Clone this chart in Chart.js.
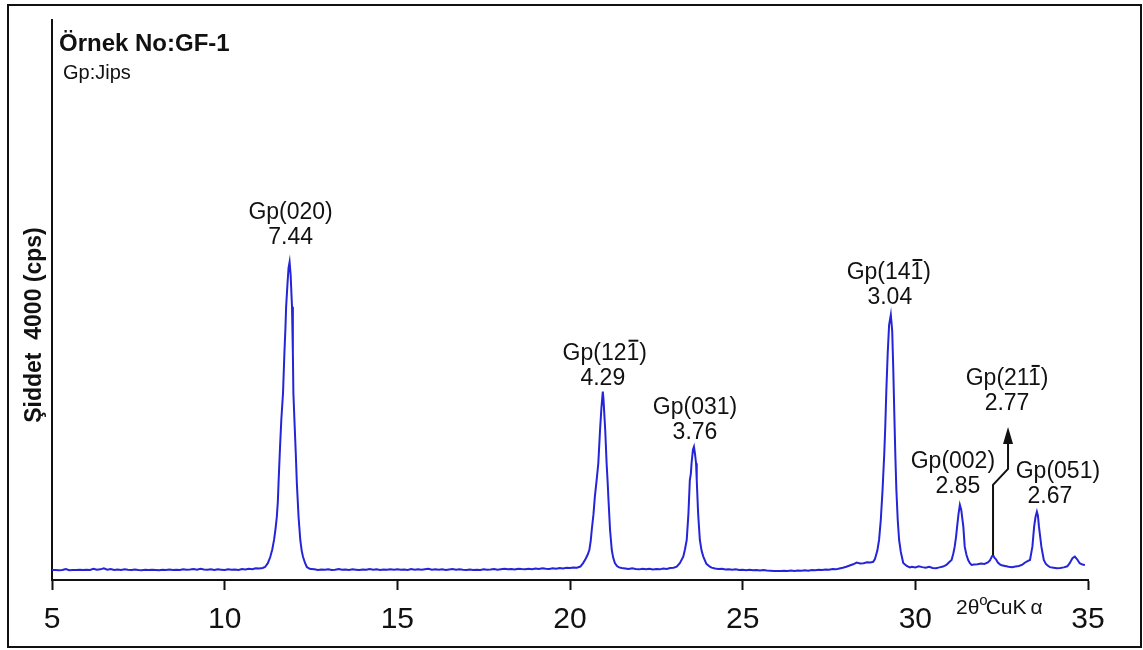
<!DOCTYPE html>
<html lang="tr">
<head>
<meta charset="utf-8">
<title>GF-1 XRD</title>
<script src="https://cdn.jsdelivr.net/npm/chart.js@4.4.1/dist/chart.umd.min.js"></script>
<style>
  html, body { margin: 0; padding: 0; background: #ffffff; }
  #wrap { position: relative; width: 1143px; height: 650px; }
  #frame {
    position: absolute; left: 7px; top: 4px; width: 1131px; height: 640px;
    border: 2px solid #111111; pointer-events: none;
  }
  canvas { display: block; }
</style>
</head>
<body>
<div id="wrap">
  <canvas id="xrd" width="1143" height="650"></canvas>
  <div id="frame"></div>
</div>
<script>
// diffractogram, 2θ (degrees) against intensity (cps)
const twoTheta = [
  5.0, 5.1, 5.2, 5.3, 5.4, 5.5, 5.6, 5.7, 5.8, 5.9,
  6.0, 6.1, 6.2, 6.3, 6.4, 6.5, 6.6, 6.7, 6.8, 6.9,
  7.0, 7.1, 7.2, 7.3, 7.4, 7.5, 7.6, 7.7, 7.8, 7.9,
  8.0, 8.1, 8.2, 8.3, 8.4, 8.5, 8.6, 8.7, 8.8, 8.9,
  9.0, 9.1, 9.2, 9.3, 9.4, 9.5, 9.6, 9.7, 9.8, 9.9,
  10.0, 10.1, 10.2, 10.3, 10.4, 10.5, 10.6, 10.7, 10.8, 10.9,
  11.0, 11.1, 11.17, 11.25, 11.32, 11.38, 11.43, 11.47, 11.51, 11.54,
  11.56, 11.6, 11.64, 11.69, 11.73, 11.76, 11.78, 11.82, 11.85, 11.88,
  11.91, 11.95, 11.975, 11.99, 12.02, 12.06, 12.09, 12.14, 12.19, 12.23,
  12.27, 12.33, 12.38, 12.45, 12.5, 12.6, 12.7, 12.8, 12.9, 13.0,
  13.1, 13.2, 13.3, 13.4, 13.5, 13.6, 13.7, 13.8, 13.9, 14.0,
  14.1, 14.2, 14.3, 14.4, 14.5, 14.6, 14.7, 14.8, 14.9, 15.0,
  15.1, 15.2, 15.3, 15.4, 15.5, 15.6, 15.7, 15.8, 15.9, 16.0,
  16.1, 16.2, 16.3, 16.4, 16.5, 16.6, 16.7, 16.8, 16.9, 17.0,
  17.1, 17.2, 17.3, 17.4, 17.5, 17.6, 17.7, 17.8, 17.9, 18.0,
  18.1, 18.2, 18.3, 18.4, 18.5, 18.6, 18.7, 18.8, 18.9, 19.0,
  19.1, 19.2, 19.3, 19.4, 19.5, 19.6, 19.7, 19.8, 19.9, 20.0,
  20.1, 20.2, 20.3, 20.38, 20.45, 20.51, 20.56, 20.6, 20.63, 20.68,
  20.72, 20.77, 20.82, 20.87, 20.91, 20.95, 20.97, 20.99, 21.02, 21.06,
  21.09, 21.11, 21.16, 21.21, 21.25, 21.3, 21.36, 21.42, 21.5, 21.6,
  21.7, 21.8, 21.9, 22.0, 22.1, 22.2, 22.3, 22.4, 22.5, 22.6,
  22.7, 22.8, 22.9, 23.0, 23.09, 23.18, 23.28, 23.33, 23.38, 23.43,
  23.47, 23.5, 23.52, 23.56, 23.59, 23.62, 23.65, 23.67, 23.71, 23.76,
  23.81, 23.86, 23.95, 24.05, 24.1, 24.2, 24.3, 24.4, 24.5, 24.6,
  24.7, 24.8, 24.9, 25.0, 25.1, 25.2, 25.3, 25.4, 25.5, 25.6,
  25.7, 25.8, 25.9, 26.0, 26.1, 26.2, 26.3, 26.4, 26.5, 26.6,
  26.7, 26.8, 26.9, 27.0, 27.1, 27.2, 27.3, 27.4, 27.5, 27.6,
  27.7, 27.8, 27.9, 28.0, 28.1, 28.2, 28.3, 28.4, 28.5, 28.6,
  28.7, 28.78, 28.83, 28.9, 28.95, 29.0, 29.05, 29.1, 29.13, 29.16,
  29.2, 29.24, 29.29, 29.33, 29.36, 29.39, 29.42, 29.45, 29.49, 29.53,
  29.58, 29.65, 29.75, 29.84, 29.9, 30.0, 30.1, 30.2, 30.3, 30.4,
  30.5, 30.6, 30.7, 30.8, 30.9, 30.97, 31.05, 31.1, 31.14, 31.18,
  31.21, 31.25, 31.29, 31.33, 31.36, 31.39, 31.43, 31.48, 31.53, 31.58,
  31.63, 31.7, 31.8, 31.9, 32.0, 32.1, 32.16, 32.22, 32.25, 32.29,
  32.33, 32.39, 32.45, 32.5, 32.6, 32.7, 32.8, 32.9, 33.0, 33.1,
  33.18, 33.25, 33.32, 33.39, 33.44, 33.48, 33.52, 33.55, 33.58, 33.65,
  33.72, 33.78, 33.85, 33.9, 34.0, 34.1, 34.2, 34.3, 34.4, 34.47,
  34.55, 34.62, 34.68, 34.76, 34.84, 34.91
];

const counts = [
  71, 72, 70, 71, 78, 70, 72, 71, 73, 72,
  74, 72, 80, 73, 76, 83, 74, 78, 71, 75,
  72, 76, 73, 71, 75, 72, 70, 73, 71, 74,
  72, 70, 73, 71, 75, 72, 74, 71, 76, 73,
  75, 78, 74, 80, 75, 73, 77, 72, 76, 74,
  71, 76, 73, 75, 72, 78, 75, 80, 77, 84,
  82, 86, 93, 120, 164, 220, 286, 360, 450, 560,
  693, 930, 1143, 1336, 1621, 1800, 1952, 2120, 2230, 2271,
  2180, 1952, 1621, 1336, 1143, 900, 693, 450, 286, 210,
  164, 120, 93, 82, 78, 76, 72, 75, 73, 77,
  72, 74, 79, 73, 75, 72, 76, 74, 71, 75,
  73, 78, 74, 76, 72, 75, 73, 77, 74, 76,
  73, 75, 72, 78, 74, 76, 73, 77, 80, 74,
  77, 73, 76, 72, 75, 78, 74, 76, 73, 72,
  75, 71, 74, 72, 76, 73, 75, 78, 74, 77,
  80, 76, 79, 75, 81, 78, 76, 80, 77, 82,
  79, 84, 80, 78, 83, 80, 86, 82, 88, 85,
  90, 88, 96, 121, 150, 180, 214, 280, 357, 470,
  595, 710, 834, 1071, 1230, 1345, 1290, 1200, 1071, 834,
  700, 595, 357, 214, 160, 121, 100, 90, 86, 82,
  78, 84, 79, 76, 81, 77, 80, 75, 79, 76,
  82, 78, 85, 88, 95, 120, 167, 220, 286, 476,
  714, 760, 834, 930, 952, 900, 834, 714, 476, 286,
  210, 167, 115, 95, 88, 82, 78, 80, 75, 77,
  73, 76, 72, 74, 70, 73, 69, 72, 68, 71,
  68, 66, 64, 65, 64, 66, 64, 67, 65, 68,
  66, 70, 67, 72, 69, 73, 71, 75, 73, 78,
  76, 82, 88, 95, 104, 112, 124, 118, 120, 126,
  125, 130, 150, 210, 286, 430, 640, 900, 1100, 1350,
  1620, 1820, 1893, 1780, 1520, 1200, 900, 650, 430, 286,
  200, 121, 100, 90, 95, 90, 98, 92, 88, 94,
  86, 84, 90, 96, 107, 125, 143, 190, 238, 310,
  381, 470, 536, 500, 440, 381, 238, 180, 143, 120,
  107, 110, 112, 118, 115, 125, 140, 170, 179, 160,
  150, 125, 112, 105, 100, 95, 92, 96, 100, 110,
  125, 135, 143, 238, 381, 450, 488, 460, 381, 238,
  143, 115, 100, 92, 88, 84, 86, 90, 98, 120,
  155, 167, 150, 120, 110, 107
];

const xTicks = [5, 10, 15, 20, 25, 30, 35];

// indexed reflections: hkl text, index of the barred digit (-1 = none), d-spacing (Å)
const peakHkl = ['Gp(020)', 'Gp(121)', 'Gp(031)', 'Gp(141)', 'Gp(002)', 'Gp(211)', 'Gp(051)'];
const peakBar = [-1, 5, -1, 5, -1, 5, -1];
const peakD = ['7.44', '4.29', '3.76', '3.04', '2.85', '2.77', '2.67'];
const peakTwoTheta = [11.88, 20.95, 23.59, 29.29, 31.29, 32.25, 33.52];
const peakCounts = [2271, 1345, 952, 1893, 536, 179, 488];

const colors = {
  trace: '#2424d8',
  ink: '#111111'
};
const fontFamily = '"Liberation Sans", Arial, Helvetica, sans-serif';

// where each two-line label sits relative to its peak top (px);
// dd shifts the d-spacing line against the hkl line
const labelOffsets = [
  { dx: 1, dy: -49, dd: 0 },
  { dx: 2, dy: -38, dd: -2 },
  { dx: 1, dy: -39, dd: 0 },
  { dx: -2, dy: -42, dd: 1 },
  { dx: -7, dy: -43, dd: 5 },
  { dx: 14, dy: -176, dd: 0 },
  { dx: 21, dy: -40, dd: -8 }
];

function drawLabel(ctx, text, barIndex, x, y) {
  ctx.fillText(text, x, y);
  if (barIndex < 0) {
    return;
  }
  const full = ctx.measureText(text).width;
  const start = x - full / 2 + ctx.measureText(text.slice(0, barIndex)).width;
  const end = x - full / 2 + ctx.measureText(text.slice(0, barIndex + 1)).width;
  ctx.fillRect(start + 2, y - 14, end - start - 3, 2);
}

const annotations = {
  id: 'annotations',
  afterDraw(chart) {
    const { ctx, scales } = chart;
    const xs = scales.x;
    const ys = scales.y;

    ctx.save();
    ctx.fillStyle = colors.ink;
    ctx.strokeStyle = colors.ink;
    ctx.textBaseline = 'middle';

    // sample heading
    ctx.textAlign = 'left';
    ctx.font = 'bold 24px ' + fontFamily;
    ctx.fillText('Örnek No:GF-1', 59, 44);
    ctx.font = '20px ' + fontFamily;
    ctx.fillText('Gp:Jips', 63, 73);

    // intensity axis caption
    ctx.save();
    ctx.translate(35, 325);
    ctx.rotate(-Math.PI / 2);
    ctx.textAlign = 'center';
    ctx.font = 'bold 23px ' + fontFamily;
    ctx.fillText('Şiddet  4000 (cps)', 0, 0);
    ctx.restore();

    // 2θ caption
    ctx.font = '21px ' + fontFamily;
    let cx = 956;
    ctx.fillText('2θ', cx, 608);
    cx += ctx.measureText('2θ').width;
    ctx.font = '15px ' + fontFamily;
    ctx.fillText('o', cx, 601);
    cx += ctx.measureText('o').width - 2;
    ctx.font = '21px ' + fontFamily;
    ctx.fillText('CuK', cx, 608);
    cx += ctx.measureText('CuK').width + 4;
    ctx.fillText('α', cx, 608);

    // reflection labels
    ctx.textAlign = 'center';
    ctx.font = '23px ' + fontFamily;
    peakHkl.forEach((hkl, i) => {
      const off = labelOffsets[i];
      const px = xs.getPixelForValue(peakTwoTheta[i]) + off.dx;
      const py = ys.getPixelForValue(peakCounts[i]) + off.dy;
      drawLabel(ctx, hkl, peakBar[i], px, py);
      ctx.fillText(peakD[i], px + off.dd, py + 25);
    });

    // arrow from the weak (21-1) reflection up to its label
    const ax = xs.getPixelForValue(peakTwoTheta[5]);
    const ay = ys.getPixelForValue(peakCounts[5]);
    ctx.lineWidth = 2;
    ctx.beginPath();
    ctx.moveTo(ax, ay);
    ctx.lineTo(ax, ay - 70);
    ctx.lineTo(ax + 15, ay - 86);
    ctx.lineTo(ax + 15, ay - 112);
    ctx.stroke();
    ctx.beginPath();
    ctx.moveTo(ax + 15, ay - 128);
    ctx.lineTo(ax + 10, ay - 111);
    ctx.lineTo(ax + 20, ay - 111);
    ctx.closePath();
    ctx.fill();

    ctx.restore();
  }
};

new Chart(document.getElementById('xrd'), {
  type: 'line',
  data: {
    datasets: [{
      data: twoTheta.map((t, i) => ({ x: t, y: counts[i] })),
      borderColor: colors.trace,
      borderWidth: 2,
      pointRadius: 0,
      tension: 0,
      fill: false
    }]
  },
  options: {
    responsive: false,
    animation: false,
    layout: { padding: { left: 8, top: 20, right: 55, bottom: 0 } },
    plugins: {
      legend: { display: false },
      tooltip: { enabled: false }
    },
    scales: {
      x: {
        type: 'linear',
        min: 5,
        max: 35,
        afterBuildTicks: (axis) => {
          axis.ticks = xTicks.map((value) => ({ value }));
        },
        afterFit: (axis) => { axis.height = 70; },
        ticks: {
          color: colors.ink,
          padding: 12,
          maxRotation: 0,
          font: { family: fontFamily, size: 30 }
        },
        grid: {
          drawOnChartArea: false,
          drawTicks: true,
          tickLength: 10,
          tickWidth: 2,
          tickColor: colors.ink
        },
        border: { display: true, color: colors.ink, width: 2 }
      },
      y: {
        min: 0,
        max: 4000,
        afterFit: (axis) => { axis.width = 44; },
        ticks: { display: false },
        grid: { drawOnChartArea: false, drawTicks: false },
        border: { display: true, color: colors.ink, width: 2 }
      }
    }
  },
  plugins: [annotations]
});
</script>
</body>
</html>
